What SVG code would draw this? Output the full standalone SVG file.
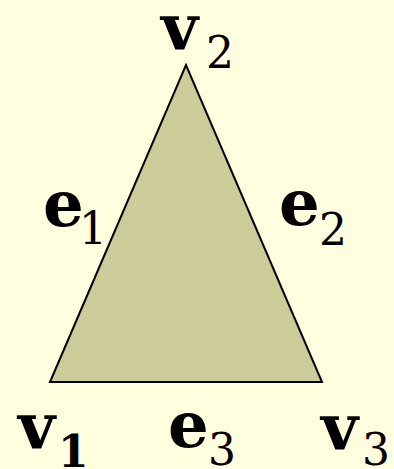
<svg xmlns="http://www.w3.org/2000/svg" width="394" height="469" viewBox="0 0 394 469">
  <rect x="0" y="0" width="394" height="469" fill="#FFFFE0"/>
  <g id="connectors">
    <polygon points="50,382 186,65 322,382" fill="#CCCC99" stroke="#000" stroke-width="2" stroke-linejoin="miter"/>
  </g>
  <g id="v2" font-family="DejaVu Serif" fill="#000"><text font-weight="bold" font-size="64" x="161" y="49">v</text><text font-size="44" x="206" y="68">2</text></g>
  <g id="e1" font-family="DejaVu Serif" fill="#000"><text font-weight="bold" font-size="64" x="43" y="226">e</text><text font-size="44" x="79" y="244">1</text></g>
  <g id="e2" font-family="DejaVu Serif" fill="#000"><text font-weight="bold" font-size="64" x="279" y="225">e</text><text font-size="44" x="319" y="245">2</text></g>
  <g id="e3" font-family="DejaVu Serif" fill="#000"><text font-weight="bold" font-size="64" x="168" y="447">e</text><text font-size="44" x="208" y="465">3</text></g>
  <g id="v1" font-family="DejaVu Serif" fill="#000"><text font-weight="bold" font-size="64" x="18" y="448">v</text><text font-weight="bold" font-size="44" x="58" y="467">1</text></g>
  <g id="v3" font-family="DejaVu Serif" fill="#000"><text font-weight="bold" font-size="64" x="321" y="449">v</text><text font-size="44" x="362" y="465">3</text></g>
</svg>
